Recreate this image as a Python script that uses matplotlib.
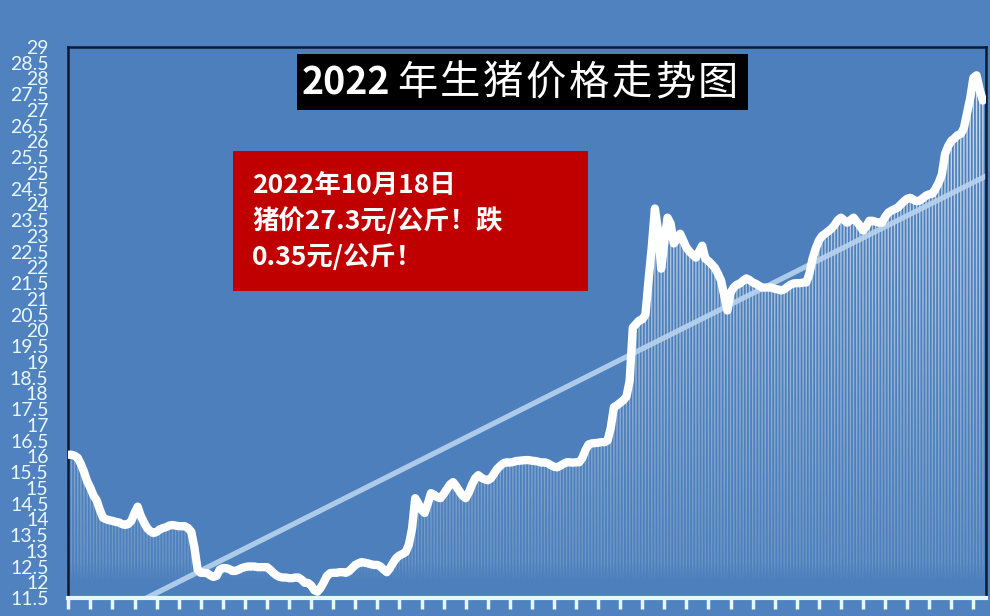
import numpy as np
import matplotlib
matplotlib.use('Agg')
import matplotlib.pyplot as plt
from matplotlib.path import Path
from matplotlib.patches import PathPatch, Rectangle

# 2022 pig price, one value per day from Jan 1 to Oct 18 (yuan / kg)
prices = [
    16.05, 16.05, 16.02, 15.95, 15.75, 15.50, 15.20,
    15.00, 14.75, 14.60, 14.30, 14.05, 14.00, 13.97,
    13.95, 13.92, 13.90, 13.85, 13.82, 13.85, 13.95,
    14.20, 14.40, 14.10, 13.90, 13.72, 13.62, 13.56,
    13.60, 13.68, 13.72, 13.75, 13.80, 13.82, 13.80,
    13.78, 13.78, 13.78, 13.72, 13.60, 13.10, 12.40,
    12.30, 12.30, 12.29, 12.22, 12.17, 12.20, 12.40,
    12.45, 12.45, 12.42, 12.36, 12.36, 12.40, 12.45,
    12.48, 12.50, 12.50, 12.50, 12.48, 12.48, 12.48,
    12.48, 12.40, 12.30, 12.22, 12.17, 12.15, 12.15,
    12.13, 12.13, 12.15, 12.15, 12.08, 11.98, 11.98,
    11.90, 11.75, 11.70, 11.82, 12.00, 12.20, 12.29,
    12.30, 12.30, 12.32, 12.32, 12.30, 12.35, 12.45,
    12.55, 12.60, 12.64, 12.62, 12.60, 12.57, 12.55,
    12.55, 12.50, 12.40, 12.32, 12.45, 12.62, 12.77,
    12.85, 12.90, 12.96, 13.20, 13.70, 14.67, 14.50,
    14.30, 14.20, 14.50, 14.83, 14.78, 14.70, 14.67,
    14.80, 14.95, 15.10, 15.18, 15.05, 14.90, 14.75,
    14.67, 14.85, 15.10, 15.30, 15.40, 15.32, 15.27,
    15.24, 15.30, 15.45, 15.60, 15.70, 15.78, 15.81,
    15.80, 15.82, 15.85, 15.86, 15.87, 15.88, 15.88,
    15.86, 15.85, 15.83, 15.80, 15.81, 15.78, 15.72,
    15.67, 15.65, 15.70, 15.76, 15.81, 15.81, 15.80,
    15.81, 15.81, 15.95, 16.20, 16.38, 16.41, 16.42,
    16.43, 16.45, 16.45, 16.50, 16.90, 17.56, 17.62,
    17.70, 17.78, 17.90, 18.40, 20.09, 20.20, 20.31,
    20.35, 20.50, 21.60, 22.63, 23.87, 23.17, 21.96,
    22.80, 23.58, 23.39, 22.76, 22.90, 23.07, 22.85,
    22.63, 22.50, 22.40, 22.31, 22.50, 22.69, 22.28,
    22.20, 22.10, 21.99, 21.80, 21.58, 21.10, 20.63,
    21.20, 21.36, 21.45, 21.49, 21.58, 21.65, 21.60,
    21.52, 21.48, 21.42, 21.36, 21.36, 21.36, 21.36,
    21.32, 21.30, 21.27, 21.30, 21.38, 21.45, 21.49,
    21.50, 21.50, 21.52, 21.52, 21.80, 22.28, 22.60,
    22.85, 23.00, 23.07, 23.15, 23.23, 23.35, 23.50,
    23.58, 23.50, 23.42, 23.50, 23.58, 23.45, 23.33,
    23.17, 23.30, 23.48, 23.48, 23.45, 23.42, 23.42,
    23.60, 23.74, 23.80, 23.85, 23.90, 24.00, 24.10,
    24.18, 24.21, 24.15, 24.10, 24.12, 24.20, 24.28,
    24.32, 24.34, 24.50, 24.69, 24.95, 25.60, 25.85,
    26.02, 26.10, 26.20, 26.24, 26.43, 26.90, 27.38,
    28.02, 28.10, 27.65, 27.30,
]
y_ticks = np.arange(11.5, 29.01, 0.5)
title_year = '2022'
title_rest = '年生猪价格走势图'
note_lines = ['2022年10月18日', '猪价27.3元/公斤！跌', '0.35元/公斤！']

plt.rcParams['font.family'] = ['Noto Sans CJK SC', 'DejaVu Sans']

BG = '#4f82be'
W, H = 990, 616
days = np.arange(len(prices))
ymin, ymax = 11.5, 29

fig = plt.figure(figsize=(W / 100, H / 100), dpi=100, facecolor=BG)
ax = fig.add_axes([68 / W, 18 / H, 918 / W, 551 / H])
ax.set_facecolor('#4c7fbb')

# thin bars with a white gradient (brighter towards the top of the chart)
bar_w = 0.45
verts, codes = [], []
for i, v in zip(days, prices):
    x0, x1 = i - bar_w / 2, i + bar_w / 2
    verts += [(x0, ymin), (x0, v), (x1, v), (x1, ymin), (x0, ymin)]
    codes += [Path.MOVETO, Path.LINETO, Path.LINETO, Path.LINETO, Path.CLOSEPOLY]
clip = PathPatch(Path(verts, codes), transform=ax.transData,
                 facecolor='none', edgecolor='none')
ax.add_patch(clip)

vv = np.linspace(ymin, ymax, 400)
grad = np.ones((400, 1, 4))
grad[:, 0, 3] = np.clip(0.17 + (vv - 12.6) / 15.5 * 0.6, 0, 0.78)
grad[vv < 12.6, 0, 3] *= np.clip((vv[vv < 12.6] - 12.0) / 0.6, 0, 1)
im = ax.imshow(grad, extent=[-1, len(prices) + 1, ymin, ymax], origin='lower',
               aspect='auto', interpolation='bilinear', zorder=1)
im.set_clip_path(clip)

# linear trend line
coef = np.polyfit(days, prices, 1)
tx = np.array([days[0], days[-1] + 1])
ax.plot(tx, np.polyval(coef, tx), color='#b9d3ef', lw=3.8, alpha=0.9, zorder=2)

# price line
ax.plot(days, prices, color='white', lw=6, solid_joinstyle='round',
        solid_capstyle='round', zorder=4)

ax.set_xlim(-0.1, 291)
ax.set_ylim(ymin, ymax)

ax.set_xticks(np.arange(0, len(prices), 7))
ax.tick_params(axis='x', direction='out', length=8, width=2.5,
               color='#e6f6fa', labelbottom=False)
ax.set_yticks(y_ticks)
ax.set_yticklabels(['%g' % t for t in y_ticks], fontfamily='Lato',
                   fontsize=14, color='#eaf8ff')
ax.tick_params(axis='y', length=0, pad=14)

for side in ['top', 'left', 'right']:
    ax.spines[side].set_color('#0c1a35')
    ax.spines[side].set_linewidth(1.8)
ax.spines['bottom'].set_color('#e6f6fa')
ax.spines['bottom'].set_linewidth(3)

# title box: bold year, then evenly spaced characters
fig.add_artist(Rectangle((297 / W, 1 - 110 / H), 451 / W, 56 / H,
                         transform=fig.transFigure, facecolor='black',
                         edgecolor='none', zorder=5))
fig.text(390 / W, 1 - 83 / H, title_year, ha='right', va='center', color='white',
         fontsize=27, fontweight='bold', zorder=6)
for k, ch in enumerate(title_rest):
    fig.text((417 + 43 * k) / W, 1 - 83 / H, ch, ha='center', va='center',
             color='white', fontsize=29, fontweight='normal', zorder=6)

# red note box
fig.add_artist(Rectangle((233 / W, 1 - 291 / H), 355 / W, 140 / H,
                         transform=fig.transFigure, facecolor='#c00000',
                         edgecolor='none', zorder=5))
for k, line in enumerate(note_lines):
    fig.text(252 / W, 1 - (185 + 36 * k) / H, line, ha='left', va='center',
             color='white', fontsize=19, fontweight='bold', zorder=6)

fig.savefig('out.png', dpi=100, facecolor=BG)
